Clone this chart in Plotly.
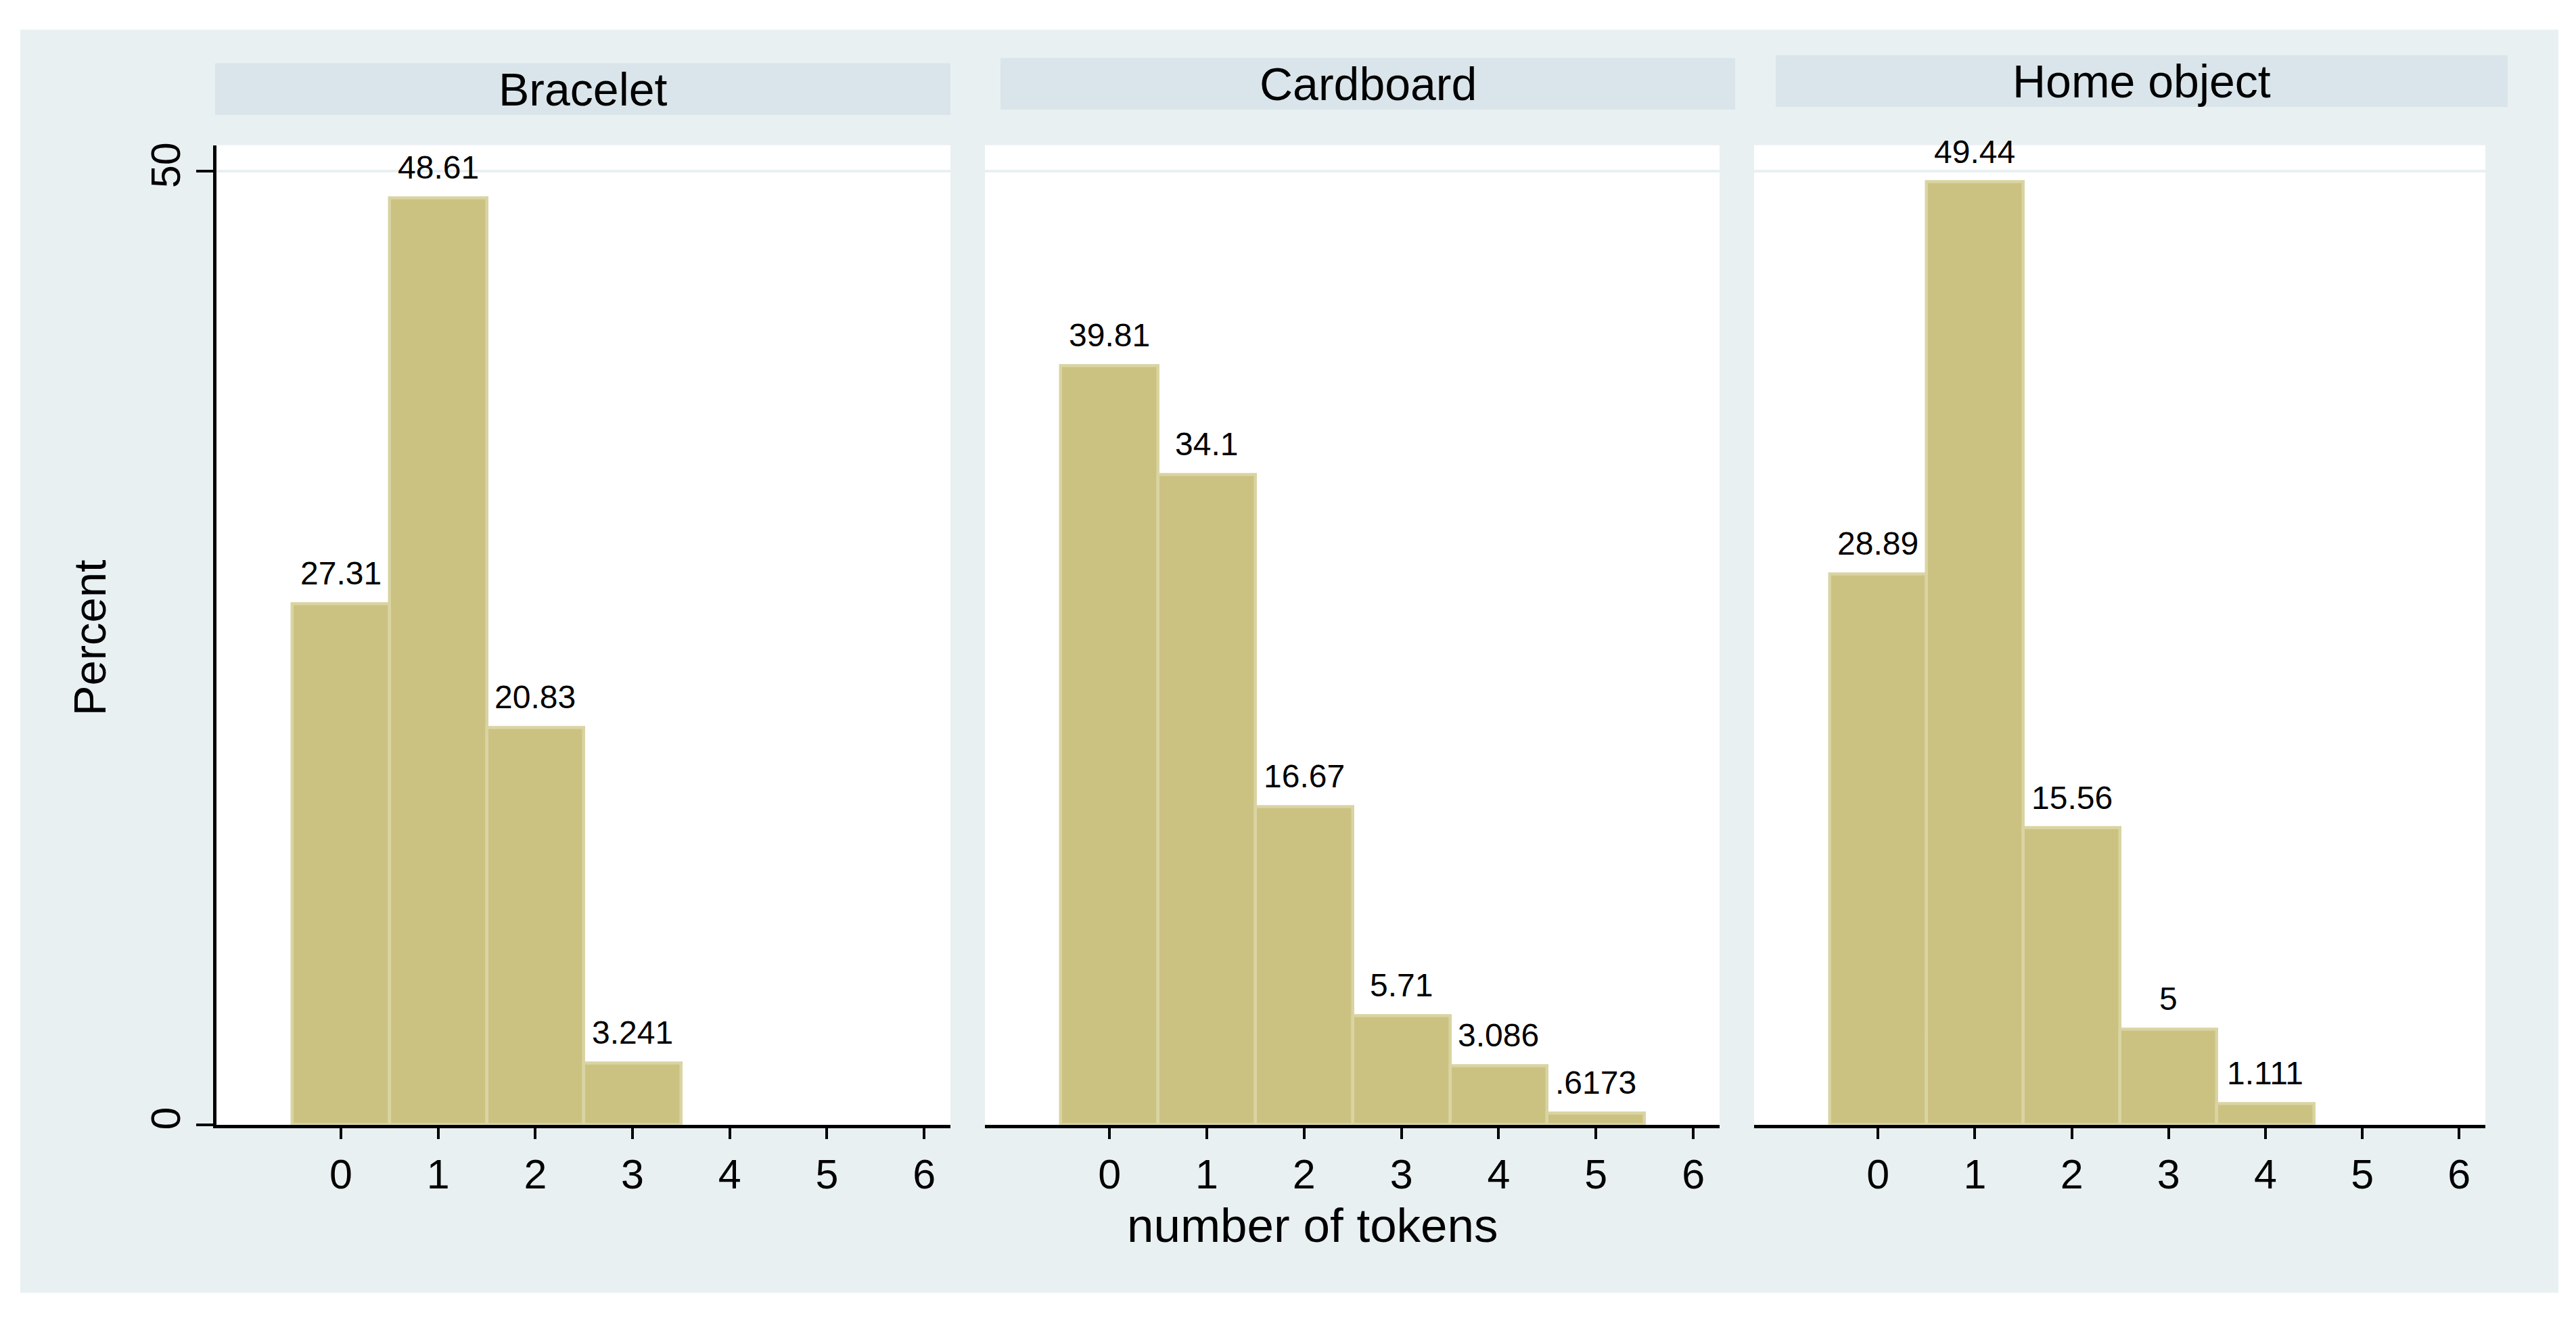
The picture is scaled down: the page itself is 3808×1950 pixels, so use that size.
import plotly.graph_objects as go

# ---------------- data ----------------
panel_titles = ["Bracelet", "Cardboard", "Home object"]

tokens_bracelet = [0, 1, 2, 3]
pct_bracelet = [27.31, 48.61, 20.83, 3.241]

tokens_cardboard = [0, 1, 2, 3, 4, 5]
pct_cardboard = [39.81, 34.1, 16.67, 5.71, 3.086, 0.6173]

tokens_home = [0, 1, 2, 3, 4]
pct_home = [28.89, 49.44, 15.56, 5, 1.111]

x_tick_values = [0, 1, 2, 3, 4, 5, 6]
y_tick_values = [0, 50]
x_title = "number of tokens"
y_title = "Percent"

# ---------------- styling ----------------
W, H = 3808, 1950
FONT = "Arial, Liberation Sans, sans-serif"
BG = "#e9f0f2"
HEADER = "#d9e5ea"
FILL = "#cbc282"
EDGE = "#d9d4a2"


def fx(px):
    return px / W


def fy(py):
    return 1 - py / H


def fmt(v):
    s = format(v, ".4g")
    if s.startswith("0."):
        s = s[1:]
    return s


series = [
    (tokens_bracelet, pct_bracelet),
    (tokens_cardboard, pct_cardboard),
    (tokens_home, pct_home),
]

plot_x = [(320, 1405), (1456, 2542), (2593, 3674)]
plot_top, plot_bottom = 212, 1669
header_boxes = [(318, 1405, 90, 167), (1479, 2565, 82, 159), (2625, 3707, 78, 155)]

fig = go.Figure()
annotations = []
shapes = []

# white border around the light background (paper itself is the light colour)
BX0, BX1, BY0, BY1 = 30, 3782, 40, 1919
PAD = 40
for (a, b, c, d) in [(-PAD, W + PAD, -PAD, BY0), (-PAD, W + PAD, BY1, H + PAD),
                     (-PAD, BX0, -PAD, H + PAD), (BX1, W + PAD, -PAD, H + PAD)]:
    shapes.append(dict(type="rect", xref="paper", yref="paper",
                       x0=fx(a), x1=fx(b), y0=fy(d), y1=fy(c),
                       fillcolor="white", line=dict(width=0), layer="below"))

for i, ((xs, ys), title) in enumerate(zip(series, panel_titles)):
    n = "" if i == 0 else str(i + 1)
    fig.add_trace(go.Bar(
        x=xs, y=ys, width=1,
        marker=dict(color=FILL, line=dict(color=EDGE, width=4.5)),
        xaxis="x" + n, yaxis="y" + n, showlegend=False, hoverinfo="x+y",
    ))
    for xv, yv in zip(xs, ys):
        annotations.append(dict(
            x=xv, y=yv, xref="x" + n, yref="y" + n, text=fmt(yv),
            showarrow=False, yanchor="middle", yshift=45,
            font=dict(family=FONT, size=48, color="black"),
        ))
    x0, x1 = plot_x[i]
    xa = dict(
        domain=[fx(x0), fx(x1)], range=[-1.28, 6.27],
        tickmode="array", tickvals=x_tick_values,
        ticktext=[str(v) for v in x_tick_values],
        ticks="outside", ticklen=16, tickwidth=4, tickcolor="black",
        showline=True, linewidth=5, linecolor="black",
        showgrid=False, zeroline=False,
        tickfont=dict(family=FONT, size=61, color="black"),
        anchor="y" + n, fixedrange=True,
    )
    ya = dict(
        domain=[fy(plot_bottom), fy(plot_top)], range=[0, 51.37],
        tickmode="array", tickvals=y_tick_values,
        ticktext=[str(v) for v in y_tick_values],
        showgrid=True, gridcolor=BG, gridwidth=4,
        zeroline=False, anchor="x" + n, fixedrange=True,
    )
    if i == 0:
        ya.update(ticks="outside", ticklen=25, tickwidth=4, tickcolor="black",
                  showline=True, linewidth=5, linecolor="black",
                  tickangle=-90, showticklabels=True,
                  tickfont=dict(family=FONT, size=61, color="black"))
    else:
        ya.update(ticks="", showline=False, showticklabels=False)
    fig.update_layout(**{"xaxis" + n: xa, "yaxis" + n: ya})

    hx0, hx1, hy0, hy1 = header_boxes[i]
    shapes.append(dict(type="rect", xref="paper", yref="paper",
                       x0=fx(hx0), x1=fx(hx1), y0=fy(hy1), y1=fy(hy0),
                       fillcolor=HEADER, line=dict(width=0), layer="below"))
    annotations.append(dict(
        x=fx((hx0 + hx1) / 2), y=fy((hy0 + hy1) / 2), xref="paper", yref="paper",
        text=title, showarrow=False, xanchor="center", yanchor="middle",
        font=dict(family=FONT, size=68, color="black"),
    ))

annotations.append(dict(
    x=fx(1941), y=fy(1819), xref="paper", yref="paper", text=x_title,
    showarrow=False, xanchor="center", yanchor="middle",
    font=dict(family=FONT, size=71, color="black"),
))
annotations.append(dict(
    x=fx(132), y=fy(945), xref="paper", yref="paper", text=y_title,
    showarrow=False, xanchor="center", yanchor="middle", textangle=-90,
    font=dict(family=FONT, size=67, color="black"),
))

fig.update_layout(
    width=W, height=H,
    margin=dict(l=0, r=0, t=0, b=0),
    paper_bgcolor=BG, plot_bgcolor="white",
    bargap=0, showlegend=False,
    shapes=shapes, annotations=annotations,
    font=dict(family=FONT, color="black"),
)

fig.write_html("out.html", config={"displayModeBar": False},
               post_script="document.body.style.margin='0';document.body.style.overflow='hidden';")
